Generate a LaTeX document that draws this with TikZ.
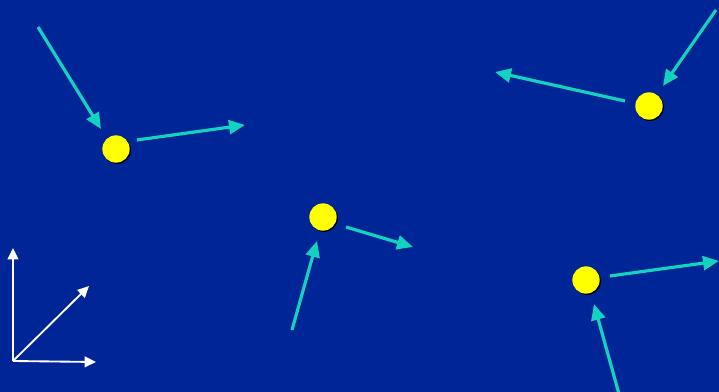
\documentclass[tikz,border=0pt]{standalone}
\usepackage{tikz}
\usetikzlibrary{arrows.meta,shadows}
\definecolor{deepblue}{HTML}{002596}
\definecolor{cyanink}{HTML}{14D2C0}
\definecolor{sunyellow}{HTML}{FFFF00}
\tikzset{
    every picture/.style={line join=round},
    particle/.style={circle,fill=sunyellow,minimum size=20.5pt,inner sep=0pt,
      drop shadow={shadow xshift=0.9pt,shadow yshift=-0.9pt,fill=black,opacity=1}},
    flowarrow/.style={-{Triangle[length=12pt,width=10.5pt]},draw=cyanink,
      line width=2.4pt,
      preaction={draw=black,-{Triangle[length=12pt,width=10.5pt]},
        transform canvas={shift={(0.8pt,-0.8pt)}}}},
    axisarrow/.style={-{Triangle[length=8.5pt,width=8pt]},draw=white,
      line width=1.4pt}
}
\begin{document}
\begin{tikzpicture}[x=0.75pt,y=-0.75pt]
  \fill[deepblue] (0,0) rectangle (719,392);
  \useasboundingbox (0,0) rectangle (719,392);
  % particles
  \node[particle] (pa) at (116,149) {};
  \node[particle] (pb) at (323,217) {};
  \node[particle] (pc) at (649,106) {};
  \node[particle] (pd) at (586,280) {};
  % incoming and outgoing ends
  \coordinate (ina) at (38,27);   \coordinate (tipa) at (101,129);
  \coordinate (sa) at (137,140);  \coordinate (outa) at (245,125);
  \coordinate (inb) at (292,330); \coordinate (tipb) at (317,241);
  \coordinate (sb) at (346,227);  \coordinate (outb) at (413,247);
  \coordinate (inc) at (716,10);  \coordinate (tipc) at (663,86);
  \coordinate (sc) at (625,101);  \coordinate (outc) at (495,72);
  \coordinate (ind) at (619,394); \coordinate (tipd) at (594,304);
  \coordinate (sd) at (610,276);  \coordinate (outd) at (719,261);
  \foreach \p in {a,b,c,d} {
    \draw[flowarrow] (in\p) -- (tip\p);
    \draw[flowarrow] (s\p) -- (out\p);
  }
  % axes
  \coordinate (origin) at (13,361);
  \coordinate (ey) at (13,248);
  \coordinate (ex) at (96,362);
  \coordinate (ez) at (89,286);
  \draw[axisarrow] (origin) -- (ey);
  \draw[axisarrow] (origin) -- (ex);
  \draw[axisarrow] (origin) -- (ez);
\end{tikzpicture}
\end{document}
